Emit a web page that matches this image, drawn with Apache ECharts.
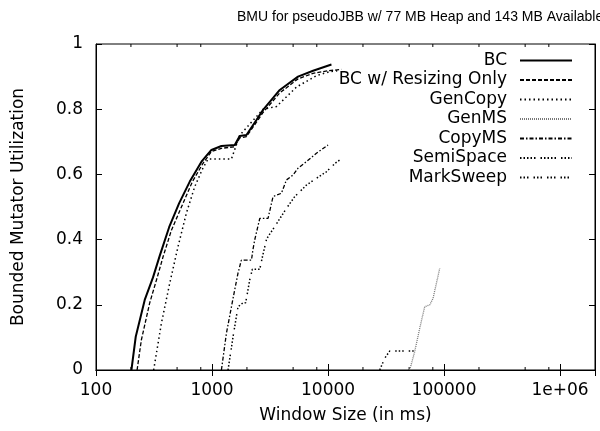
<!DOCTYPE html>
<html>
<head>
<meta charset="utf-8">
<script src="https://cdn.jsdelivr.net/npm/echarts@6.0.0/dist/echarts.min.js"></script>
<style>
  html, body { margin: 0; padding: 0; background: #fff; }
  #main { width: 600px; height: 431px; }
</style>
</head>
<body>
<div id="main"></div>
<script>
// window size (ms) , BMU
var bc = [[202,0],[220,0.102],[263,0.215],[310,0.284],[354,0.35],[427,0.438],[520,0.511],[643,0.578],
  [811,0.639],[988,0.675],[1205,0.687],[1570,0.69],[1733,0.718],[1981,0.721],[2415,0.767],
  [2755,0.798],[3837,0.859],[5510,0.9],[7430,0.918],[10700,0.937]];
var bcResize = [[226,0],[246,0.092],[290,0.205],[332,0.276],[379,0.348],[447,0.429],[562,0.511],
  [678,0.578],[836,0.634],[988,0.67],[1205,0.68],[1570,0.685],[1733,0.712],[1981,0.716],[2415,0.76],
  [2755,0.79],[3837,0.85],[5510,0.893],[7430,0.91],[10000,0.918],[13000,0.922]];
var genCopy = [[314,0],[366,0.143],[432,0.266],[509,0.378],[601,0.481],[709,0.562],[836,0.62],
  [925,0.647],[1469,0.647],[1733,0.72],[2755,0.8],[3590,0.808],[5350,0.868],[7940,0.903],
  [10350,0.915],[12000,0.918]];
var genMS = [[50600,0],[55800,0.056],[61700,0.128],[68100,0.194],[75300,0.2],[80400,0.22],[91800,0.312]];
var copyMS = [[1205,0],[1330,0.112],[1518,0.22],[1675,0.297],[1790,0.337],[2188,0.337],[2250,0.368],
  [2333,0.399],[2580,0.465],[3040,0.465],[3357,0.532],[3963,0.542],[4379,0.583],[4993,0.598],
  [5510,0.619],[6510,0.639],[7940,0.665],[10000,0.69]];
var semiSpace = [[1374,0],[1518,0.102],[1675,0.194],[1849,0.206],[1950,0.206],[2113,0.276],
  [2228,0.309],[2580,0.309],[2742,0.353],[2942,0.399],[3040,0.409],[3474,0.44],[4379,0.496],
  [5166,0.532],[6510,0.567],[7940,0.588],[9680,0.608],[11500,0.634],[12600,0.644]];
var markSweep = [[27900,0],[30800,0.036],[34000,0.058],[55800,0.058]];

var names = ['BC', 'BC w/ Resizing Only', 'GenCopy', 'GenMS', 'CopyMS', 'SemiSpace', 'MarkSweep'];
var minorTicks = [200,500,800,2000,5000,8000,20000,50000,80000,200000,500000,800000];

var FONT = 'DejaVu Sans';
var chart = echarts.init(document.getElementById('main'));

function lineSer(name, data, type, width, color, z) {
    return {
        name: name,
        type: 'line',
        data: data,
        symbol: 'none',
        silent: true,
        z: z || 2,
        itemStyle: { color: color || '#000' },
        lineStyle: { color: color || '#000', width: width || 1.3, type: type }
    };
}

var aoSer = [
    lineSer(names[0], bc, 'solid', 2, '#000', 5),
    lineSer(names[1], bcResize, [4, 2], 1.3),
    lineSer(names[2], genCopy, [1.5, 3], 1.5),
    lineSer(names[3], genMS, [1, 1], 1.3, '#777'),
    lineSer(names[4], copyMS, [4, 2, 1.5, 2], 1.3),
    lineSer(names[5], semiSpace, [1.5, 2, 1.5, 2, 1.5, 2, 1.5, 2, 1.5, 5], 1.5),
    lineSer(names[6], markSweep, [1.5, 2, 1.5, 2, 1.5, 5], 1.5)
];

// minor ticks on the log axis, top and bottom
aoSer.push({
    type: 'custom',
    name: 'minor',
    silent: true,
    data: minorTicks.map(function (v) { return [v, 0]; }),
    encode: { x: 0, y: 1 },
    renderItem: function (params, api) {
        var b = api.coord([api.value(0), 0]);
        var t = api.coord([api.value(0), 1]);
        return {
            type: 'group',
            children: [
                { type: 'line', shape: { x1: b[0], y1: b[1], x2: b[0], y2: b[1] - 3 }, style: { stroke: '#000', lineWidth: 1 } },
                { type: 'line', shape: { x1: t[0], y1: t[1], x2: t[0], y2: t[1] + 3 }, style: { stroke: '#000', lineWidth: 1 } }
            ]
        };
    }
});

function xLabel(v) {
    var r = Math.round(v);
    var l = Math.log10(r);
    if (Math.abs(l - Math.round(l)) > 1e-9) { return ''; }
    if (r >= 1e6) { return '1e+06'; }
    return String(r);
}

var oOpt = {
    animation: false,
    backgroundColor: '#fff',
    title: {
        text: 'BMU for pseudoJBB w/ 77 MB Heap and 143 MB Available',
        left: 232,
        top: 5,
        textStyle: { fontFamily: 'Liberation Sans', fontSize: 14, fontWeight: 'normal', color: '#000' }
    },
    legend: {
        data: names,
        orient: 'vertical',
        align: 'right',
        right: 22,
        top: 47,
        itemWidth: 52,
        itemHeight: 16,
        itemGap: 2.5,
        selectedMode: false,
        itemStyle: { opacity: 0 },
        textStyle: { fontFamily: FONT, fontSize: 17, lineHeight: 16, color: '#000', padding: [0, 8, 0, 0] }
    },
    grid: { left: 96, right: 5, top: 44, bottom: 61, show: true, borderColor: '#000', borderWidth: 1 },
    xAxis: [{
        type: 'log',
        logBase: 10,
        min: 100,
        max: 2000000,
        name: 'Window Size (in ms)',
        nameLocation: 'middle',
        nameGap: 37,
        nameTextStyle: { fontFamily: FONT, fontSize: 17, color: '#000' },
        axisLine: { lineStyle: { color: '#000' } },
        axisTick: { inside: true, length: 6, lineStyle: { color: '#000' } },
        axisLabel: { fontFamily: FONT, fontSize: 17, color: '#000', margin: 12, formatter: xLabel, showMaxLabel: false },
        splitLine: { show: false }
    }, {
        type: 'log',
        logBase: 10,
        min: 100,
        max: 2000000,
        position: 'top',
        axisLine: { lineStyle: { color: '#000' } },
        axisTick: { inside: true, length: 6, lineStyle: { color: '#000' } },
        axisLabel: { show: false },
        splitLine: { show: false }
    }],
    yAxis: [{
        type: 'value',
        min: 0,
        max: 1,
        interval: 0.2,
        name: 'Bounded Mutator Utilization',
        nameLocation: 'middle',
        nameGap: 69,
        nameTextStyle: { fontFamily: FONT, fontSize: 17, color: '#000' },
        axisLine: { show: true, lineStyle: { color: '#000' } },
        axisTick: { show: true, inside: true, length: 6, lineStyle: { color: '#000' } },
        axisLabel: { fontFamily: FONT, fontSize: 17, color: '#000', margin: 13 },
        splitLine: { show: false }
    }, {
        type: 'value',
        min: 0,
        max: 1,
        interval: 0.2,
        position: 'right',
        axisLine: { show: true, lineStyle: { color: '#000' } },
        axisTick: { show: true, inside: true, length: 6, lineStyle: { color: '#000' } },
        axisLabel: { show: false },
        splitLine: { show: false }
    }],
    series: aoSer
};
chart.setOption(oOpt);
</script>
</body>
</html>
